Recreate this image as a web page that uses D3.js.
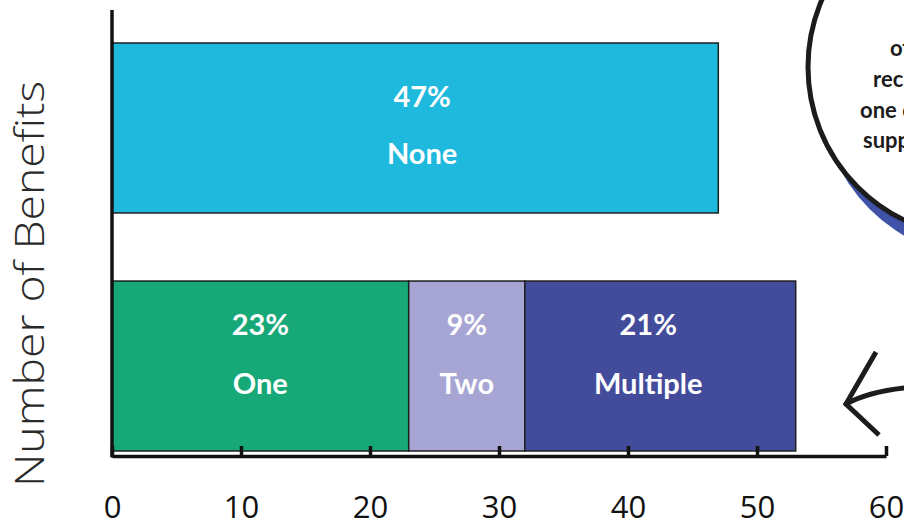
<!DOCTYPE html>
<html>
<head>
<meta charset="utf-8">
<script src="https://cdn.jsdelivr.net/npm/d3@7"></script>
<style>
  html, body { margin: 0; padding: 0; background: #fff; }
  svg { display: block; }
</style>
</head>
<body>
<svg id="chart" width="904" height="526"></svg>
<script>
// ---- data ----
const rows = ["None", "Some"];
const segments = ["None", "One", "Two", "Multiple"];
const segmentRow = ["None", "Some", "Some", "Some"];
const segmentValues = [47, 23, 9, 21];
const segmentColors = ["#1fb9de", "#17a878", "#a7a5d3", "#434b9b"];
const xTicks = [0, 10, 20, 30, 40, 50, 60];
const yAxisTitle = "Number of Benefits";
const calloutLines = ["of", "recipients", "one or more", "supports"];

// ---- layout ----
const svg = d3.select("#chart");
const x = d3.scaleLinear().domain([0, 60]).range([112, 886]);
const y = d3.scaleBand().domain(rows).range([40, 454]).paddingInner(0.286).paddingOuter(0.0126);

// stacked positions
const stackStart = [];
const acc = {};
segments.forEach((s, i) => {
  const r = segmentRow[i];
  acc[r] = acc[r] || 0;
  stackStart.push(acc[r]);
  acc[r] += segmentValues[i];
});
const segData = segments.map((s, i) => ({
  name: s, row: segmentRow[i], v: segmentValues[i], x0: stackStart[i], color: segmentColors[i]
}));

// bars
svg.append("g").selectAll("rect").data(segData).join("rect")
  .attr("x", d => x(d.x0))
  .attr("y", d => y(d.row))
  .attr("width", d => x(d.x0 + d.v) - x(d.x0))
  .attr("height", y.bandwidth())
  .attr("fill", d => d.color)
  .attr("stroke", "#1e1e1e")
  .attr("stroke-width", 1.5);

// labels
const labelFont = "Lato, 'Open Sans', sans-serif";
const offs = { None: [64, 121], Some: [54, 113] };
const labelShift = { None: 7, One: 0, Two: 0, Multiple: -12 };
const lg = svg.append("g").attr("fill", "#fff").attr("font-family", labelFont)
  .attr("font-weight", 700).attr("font-size", 29).attr("text-anchor", "middle");
const cx = d => (x(d.x0) + x(d.x0 + d.v)) / 2 + labelShift[d.name];
lg.selectAll("text.pct").data(segData).join("text").attr("class", "pct")
  .attr("x", cx)
  .attr("y", d => y(d.row) + offs[d.row][0])
  .text(d => d.v + "%");
lg.selectAll("text.nm").data(segData).join("text").attr("class", "nm")
  .attr("x", cx)
  .attr("y", d => y(d.row) + offs[d.row][1])
  .text(d => d.name);

// x axis (ticks pointing inward/up)
const xAxis = svg.append("g").attr("transform", "translate(0,456)")
  .call(d3.axisBottom(x).tickValues(xTicks).tickSizeInner(-10).tickSizeOuter(0));
xAxis.select(".domain").attr("stroke", "#111").attr("stroke-width", 3.5);
xAxis.selectAll(".tick line").attr("stroke", "#111").attr("stroke-width", 3.5);
xAxis.selectAll(".tick text")
  .attr("font-family", "'Open Sans', sans-serif")
  .attr("font-size", 31).attr("fill", "#111")
  .attr("y", 62).attr("dy", null);

// y axis line
svg.append("line").attr("x1", x(0)).attr("x2", x(0)).attr("y1", 10).attr("y2", 457.5)
  .attr("stroke", "#111").attr("stroke-width", 3.5);

// y axis title
svg.append("text")
  .attr("transform", "translate(44,284) rotate(-90)")
  .attr("text-anchor", "middle")
  .attr("font-family", "'Open Sans', sans-serif").attr("font-weight", 300)
  .attr("font-size", 40).attr("fill", "#2a2a2a")
  .attr("textLength", 406).attr("lengthAdjust", "spacingAndGlyphs")
  .text(yAxisTitle);

// callout bubble
svg.append("circle").attr("cx", 990).attr("cy", 89).attr("r", 170).attr("fill", "#3f52a8");
svg.append("circle").attr("cx", 978).attr("cy", 67).attr("r", 170).attr("fill", "#fff")
  .attr("stroke", "#1c1c1c").attr("stroke-width", 5);
const cl = svg.append("g").attr("font-family", labelFont).attr("font-weight", 700)
  .attr("font-size", 22).attr("fill", "#1c1c1c");
const clX = [890, 873, 860, 863];
const clY = [56, 87, 118, 148];
calloutLines.forEach((t, i) => {
  cl.append("text").attr("x", clX[i]).attr("y", clY[i]).text(t);
});

// arrow
svg.append("path")
  .attr("d", "M904,388 Q868,392 846,404")
  .attr("fill", "none").attr("stroke", "#1c1c1c").attr("stroke-width", 5).attr("stroke-linecap", "round");
svg.append("path")
  .attr("d", "M876,352 L846,404 L879,435")
  .attr("fill", "none").attr("stroke", "#1c1c1c").attr("stroke-width", 5)
  .attr("stroke-linejoin", "miter").attr("stroke-linecap", "butt");
</script>
</body>
</html>
